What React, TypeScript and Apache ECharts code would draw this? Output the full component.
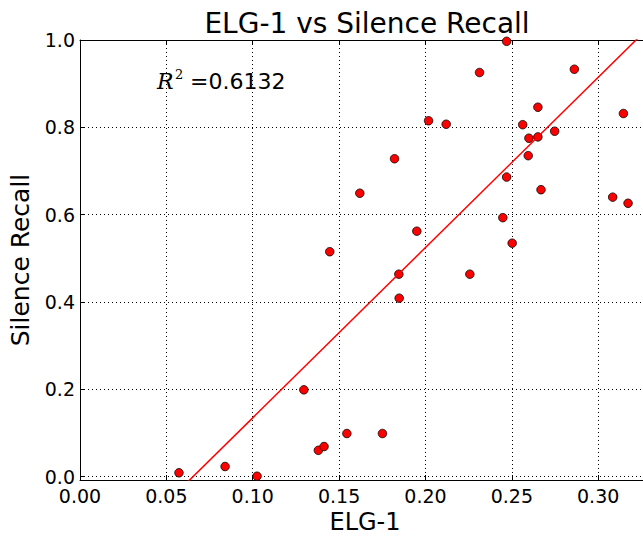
import React, { useEffect, useRef } from "react";
import * as echarts from "echarts";

// ELG-1 (x) values
const elg1: number[] = [
  0.0573, 0.084, 0.1025, 0.1296, 0.138, 0.1413, 0.1446, 0.1545, 0.162, 0.1751,
  0.1821, 0.1846, 0.1848, 0.195, 0.2018, 0.212, 0.2257, 0.2313, 0.2448, 0.247,
  0.247, 0.2502, 0.2563, 0.2595, 0.2599, 0.2651, 0.2651, 0.2669, 0.2748, 0.2862,
  0.3084, 0.3146, 0.3173,
];
// Silence Recall (y) values
const silenceRecall: number[] = [
  0.0085, 0.0229, 0.0007, 0.1986, 0.06, 0.0687, 0.515, 0.0985, 0.649, 0.0985,
  0.728, 0.4635, 0.4085, 0.562, 0.815, 0.807, 0.4635, 0.9255, 0.593, 0.686,
  0.997, 0.5345, 0.806, 0.735, 0.775, 0.778, 0.846, 0.657, 0.791, 0.933,
  0.64, 0.8316, 0.626,
];
// Regression line
const fitSlope = 3.9;
const fitIntercept = -0.2555;
const fitXRange: number[] = [0.05, 0.34];
const rSquaredText = "=0.6132";

const titleText = "ELG-1 vs Silence Recall";
const xName = "ELG-1";
const yName = "Silence Recall";

const FONT = "DejaVu Sans";

export default function App() {
  const ref = useRef<HTMLDivElement>(null);
  useEffect(() => {
    document.body.style.margin = "0";
    if (!ref.current) return;
    const chart = echarts.init(ref.current, undefined, { renderer: "svg" });
    const points = elg1.map((x, i) => [x, silenceRecall[i]]);
    const fitLine = fitXRange.map((x) => [x, fitSlope * x + fitIntercept]);
    const gridLine = { color: "#000", type: [1, 3] as any, width: 1 };
    chart.setOption({
      animation: false,
      backgroundColor: "#fff",
      textStyle: { fontFamily: FONT },
      grid: {
        left: 80,
        top: 40,
        width: 570,
        height: 440,
        containLabel: false,
        outerBoundsMode: "none",
      },
      xAxis: [
        {
          type: "value",
          min: 0,
          max: 0.33,
          interval: 0.05,
          position: "bottom",
          axisLine: { show: true, onZero: false, lineStyle: { color: "#000", width: 1 } },
          axisTick: { show: true, inside: true, length: 5, lineStyle: { color: "#000" } },
          axisLabel: {
            formatter: (v: number) => v.toFixed(2),
            fontSize: 19,
            color: "#000",
            margin: 6,
            fontFamily: FONT,
            showMaxLabel: false,
          },
          splitLine: { show: true, lineStyle: gridLine },
          name: xName,
          nameLocation: "middle",
          nameGap: 30,
          nameTextStyle: { fontSize: 24, color: "#000", fontFamily: FONT },
        },
        {
          type: "value",
          min: 0,
          max: 0.33,
          interval: 0.05,
          position: "top",
          axisLine: { show: true, onZero: false, lineStyle: { color: "#000", width: 1 } },
          axisTick: { show: true, inside: true, length: 5, lineStyle: { color: "#000" } },
          axisLabel: { show: false },
          splitLine: { show: false },
        },
      ],
      yAxis: {
        type: "value",
        min: -0.008,
        max: 1.0,
        splitNumber: 5,
        axisLine: { show: true, onZero: false, lineStyle: { color: "#000", width: 1 } },
        axisTick: { show: true, inside: true, length: 5, lineStyle: { color: "#000" } },
        axisLabel: {
          formatter: (v: number) => v.toFixed(1),
          fontSize: 19,
          color: "#000",
          margin: 5,
          fontFamily: FONT,
          showMinLabel: false,
        },
        splitLine: { show: true, lineStyle: gridLine },
        name: yName,
        nameLocation: "middle",
        nameGap: 47,
        nameTextStyle: { fontSize: 25, color: "#000", fontFamily: FONT },
      },
      graphic: [
        {
          type: "text",
          x: 367,
          y: 23,
          style: {
            text: titleText,
            fontSize: 28,
            fontFamily: FONT,
            fill: "#000",
            textAlign: "center",
            textVerticalAlign: "middle",
          },
        },
        {
          type: "text",
          x: 157,
          y: 81.5,
          style: {
            text: "R",
            fontSize: 22,
            fontFamily: "DejaVu Serif",
            fontStyle: "italic",
            fill: "#000",
            textAlign: "left",
            textVerticalAlign: "middle",
          },
        },
        {
          type: "text",
          x: 175,
          y: 74,
          style: {
            text: "2",
            fontSize: 13,
            fontFamily: "DejaVu Serif",
            fill: "#000",
            textAlign: "left",
            textVerticalAlign: "middle",
          },
        },
        {
          type: "text",
          x: 190,
          y: 81.5,
          style: {
            text: rSquaredText,
            fontSize: 22,
            fontFamily: FONT,
            fill: "#000",
            textAlign: "left",
            textVerticalAlign: "middle",
          },
        },
      ],
      series: [
        {
          type: "scatter",
          data: points,
          symbol: "circle",
          symbolSize: 8.5,
          itemStyle: { color: "#ff0000", borderColor: "#000", borderWidth: 0.8, opacity: 1 },
          z: 2,
          silent: true,
        },
        {
          type: "line",
          data: fitLine,
          symbol: "none",
          clip: true,
          lineStyle: { color: "#ff0000", width: 1.5 },
          z: 3,
          silent: true,
        },
      ],
    });
    return () => chart.dispose();
  }, []);
  return <div ref={ref} style={{ width: 643, height: 538 }} />;
}
